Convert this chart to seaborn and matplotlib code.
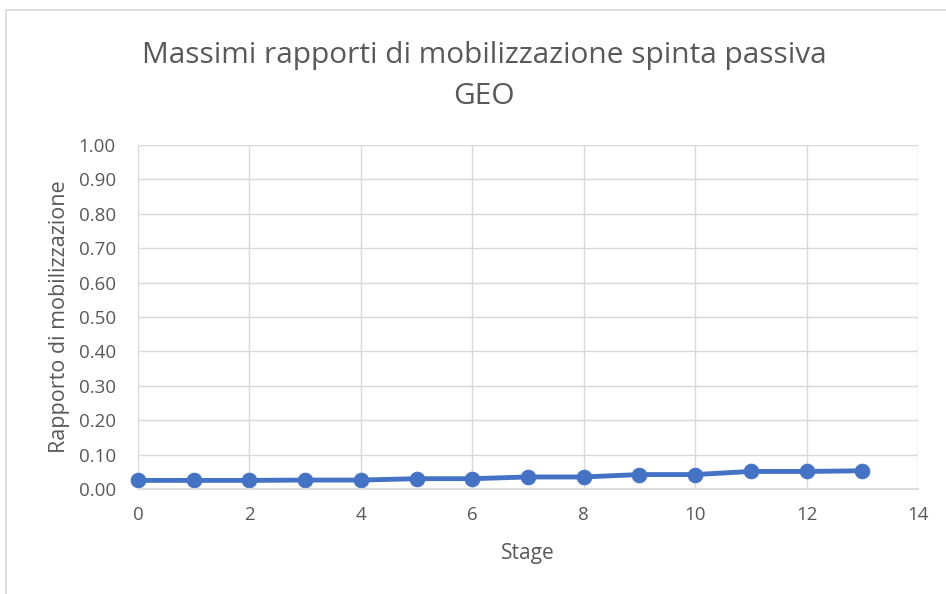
import matplotlib
matplotlib.use("Agg")
import matplotlib.pyplot as plt
import pandas as pd
import seaborn as sns
from matplotlib.patches import Rectangle

# ── Data ──────────────────────────────────────────────────────────────────────
stages = [0, 1, 2, 3, 4, 5, 6, 7, 8, 9, 10, 11, 12, 13]
ratios = [0.025, 0.025, 0.025, 0.026, 0.026, 0.030, 0.030,
          0.035, 0.035, 0.042, 0.042, 0.051, 0.051, 0.053]
x_ticks = [0, 2, 4, 6, 8, 10, 12, 14]
y_ticks = [0.0, 0.1, 0.2, 0.3, 0.4, 0.5, 0.6, 0.7, 0.8, 0.9, 1.0]

df = pd.DataFrame({"Stage": stages, "Ratio": ratios})

TEXT = "#595959"
GRID = "#D9D9D9"
BLUE = "#4472C4"

sns.set_theme(style="white")
plt.rcParams["font.family"] = ["Open Sans", "DejaVu Sans"]

fig = plt.figure(figsize=(9.46, 5.94), dpi=100)
ax = fig.add_axes([138 / 946, 1 - 489 / 594, 780 / 946, 344 / 594])

sns.lineplot(data=df, x="Stage", y="Ratio", ax=ax, color=BLUE, linewidth=3.5,
             marker="o", markersize=10.5, markeredgecolor=BLUE, clip_on=False)

ax.set_xlim(0, 14)
ax.set_ylim(0, 1.0)
ax.set_xticks(x_ticks)
ax.set_yticks(y_ticks)
ax.set_yticklabels([f"{v:.2f}" for v in y_ticks])
ax.grid(True, color=GRID, linewidth=1)
for s in ["top", "left", "right"]:
    ax.spines[s].set_visible(False)
ax.spines["bottom"].set_color(GRID)
ax.tick_params(axis="x", length=6, color=GRID, labelcolor=TEXT, labelsize=13.5, pad=6)
ax.tick_params(axis="y", length=0, labelcolor=TEXT, labelsize=13.5, pad=16)

ax.set_xlabel("Stage", color=TEXT, fontsize=15, labelpad=14)
ax.set_ylabel("Rapporto di mobilizzazione", color=TEXT, fontsize=15.5, labelpad=6)

fig.text(484 / 946, 1 - 55 / 594, "Massimi rapporti di mobilizzazione spinta passiva",
         ha="center", va="center", fontsize=21.5, color=TEXT)
fig.text(484 / 946, 1 - 97 / 594, "GEO", ha="center", va="center",
         fontsize=21.5, color=TEXT)

# chart frame
fig.patches.append(Rectangle((6 / 946, -0.01), 1.0, 1 - 10 / 594 + 0.01,
                             transform=fig.transFigure, fill=False,
                             edgecolor="#D9D9D9", linewidth=1.2))

fig.savefig("out.png", dpi=100, facecolor="white")
plt.close(fig)
